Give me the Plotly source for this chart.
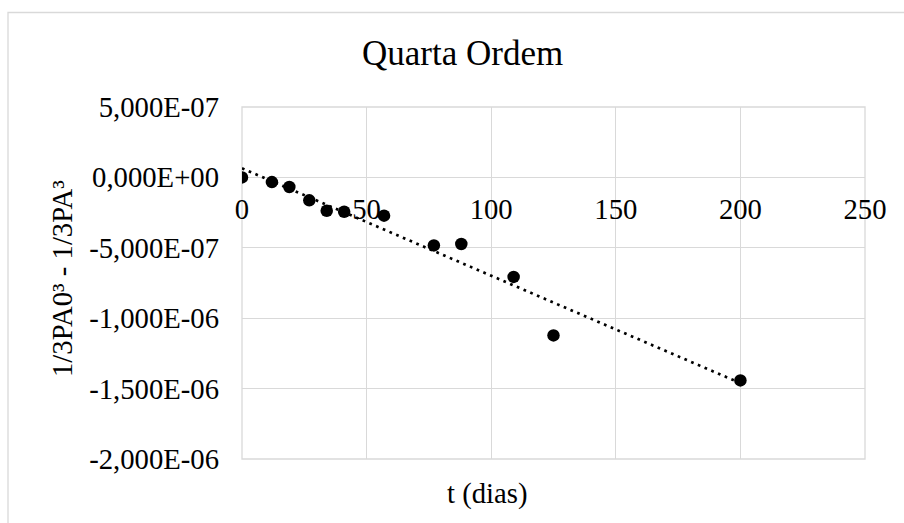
import numpy as np
import plotly.graph_objects as go

# Measured data: time (days) and 1/3PA0^3 - 1/3PA^3
t_dias = [0, 12, 19, 27, 34, 41, 57, 77, 88, 109, 125, 200]
valores = [0.0, -3.3e-8, -6.8e-8, -1.63e-7, -2.37e-7, -2.44e-7, -2.72e-7,
           -4.83e-7, -4.73e-7, -7.07e-7, -1.122e-6, -1.442e-6]

x_ticks = [0, 50, 100, 150, 200, 250]
y_ticks = [5e-7, 0.0, -5e-7, -1e-6, -1.5e-6, -2e-6]
y_ticktext = ["5,000E-07", "0,000E+00", "-5,000E-07", "-1,000E-06",
              "-1,500E-06", "-2,000E-06"]

titulo = "Quarta Ordem"
titulo_x = "t (dias)"
titulo_y = "1/3PA0³ - 1/3PA³"

# Linear trendline (least squares) over the data range
coef = np.polyfit(t_dias, valores, 1)
t_fit = np.array([min(t_dias), max(t_dias)])
v_fit = np.polyval(coef, t_fit)

FONT = "Times New Roman, Liberation Serif, DejaVu Serif, serif"
GRID = "#d9d9d9"

W, H = 904, 523
L, R, T, B = 242, 39, 107, 64
pw, ph = W - L - R, H - T - B


def px(x):
    return (x - L) / pw


def py(y):
    return (H - B - y) / ph


y_range = [-2e-6, 5e-7]
zero_pos = (0 - y_range[0]) / (y_range[1] - y_range[0])

fig = go.Figure()
fig.add_trace(go.Scatter(
    x=t_fit, y=v_fit, mode="lines",
    line=dict(color="black", width=2.7, dash="2.7px,4.6px"),
    hoverinfo="skip", showlegend=False,
))
fig.add_trace(go.Scatter(
    x=t_dias, y=valores, mode="markers",
    marker=dict(color="black", size=12.5),
    showlegend=False,
))

fig.update_layout(
    width=W, height=H,
    margin=dict(l=L, r=R, t=T, b=B),
    paper_bgcolor="white", plot_bgcolor="white",
    font=dict(family=FONT, size=28.7, color="black"),
    xaxis=dict(
        range=[0, 250], tickvals=x_ticks, showgrid=True, gridcolor=GRID,
        gridwidth=1.3, zeroline=False, showline=False, ticks="",
        anchor="free", position=zero_pos, ticklabelstandoff=12,
        tickfont=dict(family=FONT, size=28.7, color="black"),
    ),
    yaxis=dict(
        range=y_range, tickvals=y_ticks, ticktext=y_ticktext,
        showgrid=True, gridcolor=GRID, gridwidth=1.3,
        zeroline=True, zerolinecolor=GRID, zerolinewidth=1.3,
        showline=False, ticks="", ticklabelstandoff=22,
        tickfont=dict(family=FONT, size=28.7, color="black"),
    ),
    annotations=[
        dict(text=titulo, x=px(462), y=py(54), xref="paper", yref="paper",
             xanchor="center", yanchor="middle", showarrow=False,
             font=dict(family=FONT, size=35, color="black")),
        dict(text=titulo_x, x=px(487), y=py(493), xref="paper", yref="paper",
             xanchor="center", yanchor="middle", showarrow=False,
             font=dict(family=FONT, size=28.7, color="black")),
        dict(text=titulo_y, x=px(62), y=py(279), xref="paper", yref="paper",
             xanchor="center", yanchor="middle", showarrow=False,
             textangle=-90,
             font=dict(family=FONT, size=28.7, color="black")),
    ],
    shapes=[
        # outer chart frame
        dict(type="rect", xref="paper", yref="paper",
             x0=px(8), x1=px(1000), y0=py(600), y1=py(12.5),
             line=dict(color=GRID, width=1.3), fillcolor="rgba(0,0,0,0)",
             layer="below"),
        # plot area edges
        dict(type="rect", xref="paper", yref="paper",
             x0=0, x1=1, y0=0, y1=1,
             line=dict(color=GRID, width=1.3), fillcolor="rgba(0,0,0,0)",
             layer="below"),
    ],
)

fig.write_html("out.html")
